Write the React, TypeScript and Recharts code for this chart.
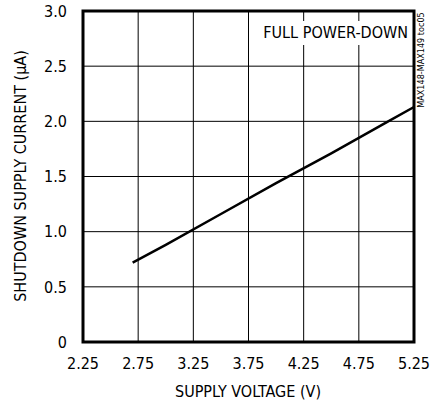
import React from "react";
import {
  LineChart,
  Line,
  XAxis,
  YAxis,
  CartesianGrid,
  ReferenceArea,
} from "recharts";

// supply voltage (V) vs shutdown supply current (uA), full power-down
const voltage = [2.7, 3.0, 3.5, 4.0, 4.5, 5.0, 5.25];
const current = [0.72, 0.88, 1.16, 1.44, 1.71, 1.99, 2.13];

const xTicks = [2.25, 2.75, 3.25, 3.75, 4.25, 4.75, 5.25];
const yTicks = [0, 0.5, 1.0, 1.5, 2.0, 2.5, 3.0];

const FONT = "'Liberation Sans Narrow', 'DejaVu Sans Condensed', 'Arial Narrow', sans-serif";

export default function App() {
  const data = voltage.map((v, i) => ({ v, i: current[i] }));

  return (
    <div style={{ position: "absolute", left: 0, top: 0, width: 430, height: 405, background: "#fff", fontFamily: FONT }}>
      <LineChart width={430} height={405} data={data} margin={{ top: 11, right: 16, left: 23, bottom: 23 }}>
        <CartesianGrid stroke="#000" strokeWidth={1} />
        <XAxis
          dataKey="v"
          type="number"
          domain={[2.25, 5.25]}
          ticks={xTicks}
          tickFormatter={(t) => Number(t).toFixed(2)}
          tickLine={false}
          axisLine={false}
          height={40}
          tickMargin={10}
          tick={{ fontSize: 16, fill: "#000", fontFamily: FONT }}
        />
        <YAxis
          type="number"
          domain={[0, 3]}
          ticks={yTicks}
          tickFormatter={(t) => (t === 0 ? "0" : Number(t).toFixed(1))}
          tickLine={false}
          axisLine={false}
          width={60}
          tickMargin={10}
          tick={{ fontSize: 16, fill: "#000", fontFamily: FONT }}
        />
        <ReferenceArea x1={2.25} x2={5.25} y1={0} y2={3} fill="none" stroke="#000" strokeWidth={3} ifOverflow="visible" />
        <Line dataKey="i" type="linear" stroke="#000" strokeWidth={2.5} dot={false} isAnimationActive={false} />
      </LineChart>
      <svg width={430} height={405} style={{ position: "absolute", left: 0, top: 0, pointerEvents: "none" }}>
        <rect x={264} y={21} width={146} height={24} fill="#fff" />
        <text x={408} y={38} textAnchor="end" fontSize={16} fontFamily={FONT} fill="#000">FULL POWER-DOWN</text>
        <text x={248} y={397} textAnchor="middle" fontSize={16} fontFamily={FONT} fill="#000">SUPPLY VOLTAGE (V)</text>
        <text
          transform="translate(26,176) rotate(-90)"
          textAnchor="middle"
          fontSize={16}
          fontFamily={FONT}
          fill="#000"
        >
          SHUTDOWN SUPPLY CURRENT (μA)
        </text>
        <text transform="translate(424,60) rotate(-90)" textAnchor="middle" fontSize={9} fontFamily={FONT} fill="#000">
          MAX148-MAX149 toc05
        </text>
      </svg>
    </div>
  );
}
